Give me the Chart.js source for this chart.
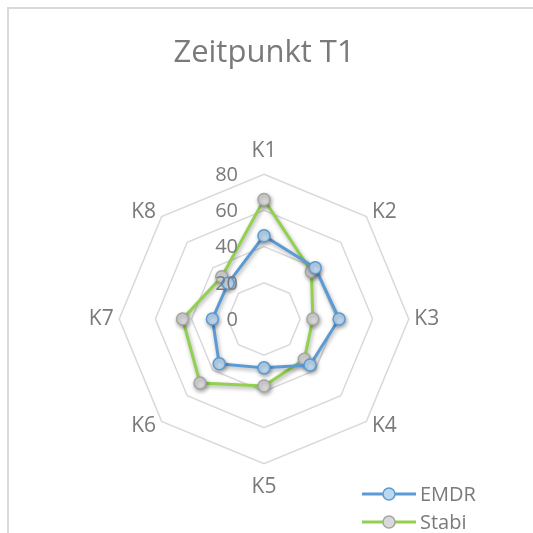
<!DOCTYPE html>
<html>
<head>
<meta charset="utf-8">
<script src="https://cdn.jsdelivr.net/npm/chart.js@4"></script>
<style>
  html, body { margin: 0; padding: 0; background: #fff; }
  #wrap { position: relative; width: 533px; height: 533px; overflow: hidden; }
  #frame { position: absolute; left: 7px; top: 7px; width: 600px; height: 600px;
           border-left: 2px solid #d9d9d9; border-top: 2px solid #d9d9d9; }
  canvas { position: absolute; left: 0; top: 0; }
</style>
</head>
<body>
<div id="wrap">
  <div id="frame"></div>
  <canvas id="radarChart" width="533" height="533"></canvas>
</div>
<script>
// ---- Data ----
const categories = ['K1', 'K2', 'K3', 'K4', 'K5', 'K6', 'K7', 'K8'];
const emdrValues = [46, 40, 41.5, 36, 27, 35, 28.5, 28];
const stabiValues = [66, 37, 27, 31.5, 37, 50, 45, 33];
const tickValues = [0, 20, 40, 60, 80];

const textColor = '#7a7a7a';
const fontFamily = "'Open Sans', 'Liberation Sans', sans-serif";

// tick labels left of the K1 axis, drawn on top of data like the original
const tickLabelPlugin = {
  id: 'tickLabels',
  afterDatasetsDraw(chart) {
    const scale = chart.scales.r;
    const ctx = chart.ctx;
    ctx.save();
    ctx.font = '20px ' + fontFamily;
    ctx.fillStyle = textColor;
    ctx.textAlign = 'right';
    ctx.textBaseline = 'middle';
    tickValues.forEach(v => {
      const d = scale.getDistanceFromCenterForValue(v);
      ctx.fillText(String(v), scale.xCenter - 26, scale.yCenter - d + 1);
    });
    ctx.restore();
  }
};

// category labels placed beside the outer vertices (Excel style)
const categoryLabelPlugin = {
  id: 'categoryLabels',
  afterDraw(chart) {
    const scale = chart.scales.r;
    const ctx = chart.ctx;
    ctx.save();
    ctx.font = '21px ' + fontFamily;
    ctx.fillStyle = textColor;
    ctx.textAlign = 'center';
    ctx.textBaseline = 'middle';
    categories.forEach((label, i) => {
      const p = scale.getPointPosition(i, scale.drawingArea);
      const cx = (p.x - scale.xCenter) / scale.drawingArea;
      const cy = (p.y - scale.yCenter) / scale.drawingArea;
      const sx = Math.abs(cx) < 0.01 ? 0 : Math.sign(cx);
      const sy = Math.abs(cy) < 0.01 ? 0 : Math.sign(cy);
      const dx = sx * 18;
      const dy = sx === 0 ? sy * 23 : sy * 4.5;
      ctx.fillText(label, p.x + dx, p.y + dy);
    });
    ctx.restore();
  }
};

// soft shadow under lines and markers
const shadowPlugin = {
  id: 'shadow',
  beforeDatasetsDraw(chart) {
    const ctx = chart.ctx;
    ctx.save();
    ctx.shadowColor = 'rgba(0,0,0,0.35)';
    ctx.shadowBlur = 4;
    ctx.shadowOffsetX = 1;
    ctx.shadowOffsetY = 2;
  },
  afterDatasetsDraw(chart) {
    chart.ctx.restore();
  }
};

// legend in the lower right corner: line + marker + name
const legendPlugin = {
  id: 'cornerLegend',
  afterDraw(chart) {
    const ctx = chart.ctx;
    const rows = [494, 522];
    ctx.save();
    chart.data.datasets.forEach((ds, i) => {
      const y = rows[i];
      ctx.strokeStyle = ds.borderColor;
      ctx.lineWidth = ds.borderWidth;
      ctx.beginPath();
      ctx.moveTo(362, y);
      ctx.lineTo(416, y);
      ctx.stroke();
      ctx.beginPath();
      ctx.arc(389, y, ds.pointRadius, 0, Math.PI * 2);
      ctx.fillStyle = ds.pointBackgroundColor;
      ctx.fill();
      ctx.lineWidth = ds.pointBorderWidth;
      ctx.strokeStyle = ds.pointBorderColor;
      ctx.stroke();
      ctx.font = '20px ' + fontFamily;
      ctx.fillStyle = textColor;
      ctx.textAlign = 'left';
      ctx.textBaseline = 'middle';
      ctx.fillText(ds.label, 420, y + 1);
    });
    ctx.restore();
  }
};

new Chart(document.getElementById('radarChart').getContext('2d'), {
  type: 'radar',
  data: {
    labels: categories,
    datasets: [
      {
        label: 'EMDR',
        data: emdrValues,
        borderColor: '#5b9bd5',
        borderWidth: 3,
        fill: false,
        pointRadius: 6,
        pointBackgroundColor: '#bdd7ee',
        pointBorderColor: '#5b9bd5',
        pointBorderWidth: 1.5
      },
      {
        label: 'Stabi',
        data: stabiValues,
        borderColor: '#92d050',
        borderWidth: 3,
        fill: false,
        pointRadius: 6,
        pointBackgroundColor: '#d9d9d9',
        pointBorderColor: '#a5a5a5',
        pointBorderWidth: 1.5
      }
    ]
  },
  options: {
    responsive: false,
    animation: false,
    layout: { padding: { left: 87, right: 92, top: 0, bottom: 36 } },
    plugins: {
      legend: { display: false },
      tooltip: { enabled: false },
      title: {
        display: true,
        text: 'Zeitpunkt T1',
        color: textColor,
        font: { family: fontFamily, size: 31, weight: 'normal' },
        padding: { top: 35, bottom: 70 }
      }
    },
    scales: {
      r: {
        min: 0,
        max: 80,
        ticks: { stepSize: 20, display: false },
        grid: { color: '#d9d9d9', lineWidth: 1.5, circular: false },
        angleLines: { display: false },
        pointLabels: {
          color: 'rgba(0,0,0,0)',
          padding: 8,
          font: { family: fontFamily, size: 20 }
        }
      }
    }
  },
  plugins: [shadowPlugin, tickLabelPlugin, categoryLabelPlugin, legendPlugin]
});
</script>
</body>
</html>
